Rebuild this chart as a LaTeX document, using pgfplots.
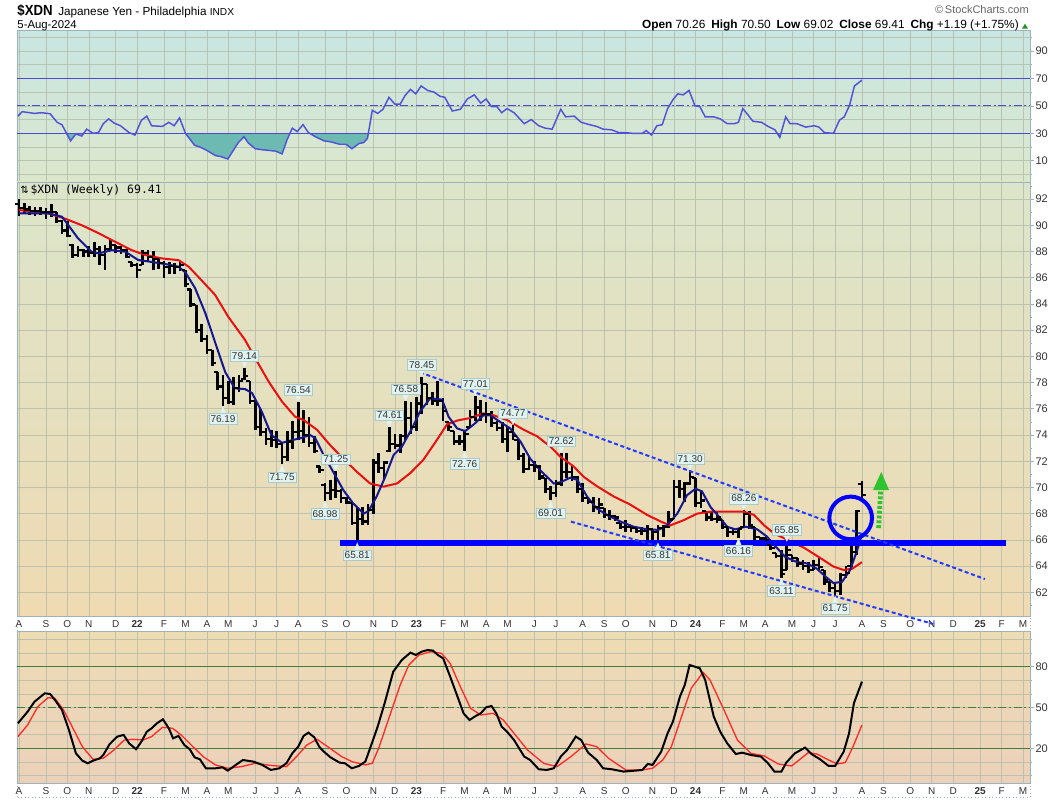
\documentclass[border=0pt]{standalone}
\usepackage{fontspec}
\setmainfont{Liberation Sans}
\newfontfamily\monofont{DejaVu Sans Mono}
\newfontfamily\dejavu{DejaVu Sans}
\newfontfamily\titlefont[FakeStretch=0.9]{Liberation Sans Bold}
\usepackage{pgfplots}
\pgfplotsset{compat=1.18}
\usepackage{pgfplotstable}

\definecolor{rsitop}{HTML}{C8E6E2}
\definecolor{rsibot}{HTML}{DCE7CC}
\definecolor{prtop}{HTML}{DCE5CA}
\definecolor{prmid}{HTML}{F2E5A7}
\definecolor{prbot}{HTML}{EFDAB2}
\definecolor{sttop}{HTML}{EEDCB3}
\definecolor{stbot}{HTML}{EBD1BA}
\definecolor{gridc}{HTML}{B4BCAA}
\definecolor{frame}{HTML}{9DB3BC}
\definecolor{rsiline}{HTML}{5252D6}
\definecolor{rsilvl}{HTML}{4B4BD0}
\definecolor{rsifill}{HTML}{6DBAB2}
\definecolor{maBlue}{HTML}{16168F}
\definecolor{maRed}{HTML}{E81010}
\definecolor{stgreen}{HTML}{3F7F3F}
\definecolor{stred}{HTML}{FF2A2A}
\definecolor{callfill}{HTML}{E1F3F1}
\definecolor{calldraw}{HTML}{A9CBCB}
\definecolor{chanblue}{HTML}{1F3BFF}
\definecolor{upgreen}{HTML}{2FC42F}
\definecolor{txt}{HTML}{333333}

\pgfdeclareplotmark{cls}{\pgfpathmoveto{\pgfqpoint{0pt}{0pt}}\pgfpathlineto{\pgfqpoint{2.9pt}{0pt}}\pgfusepathqstroke}
\pgfdeclareplotmark{opn}{\pgfpathmoveto{\pgfqpoint{-2.9pt}{0pt}}\pgfpathlineto{\pgfqpoint{0pt}{0pt}}\pgfusepathqstroke}

% weekly bars: week index (0 = 2-Aug-2021), open, high, low, close
\pgfplotstableread{
w o h l c
0 91.6 92.0 90.7 91.3
1 91.3 91.7 90.9 91.2
2 91.2 91.5 90.8 91.1
3 91.1 91.4 90.7 91.1
4 91.1 91.4 90.8 91.0
5 91.0 91.3 90.5 91.0
6 91.0 91.6 90.6 91.0
7 91.0 91.0 90.2 90.3
8 90.3 90.4 89.3 89.6
9 89.6 90.3 89.1 89.2
10 88.5 88.6 87.5 87.7
11 87.7 88.4 87.6 88.1
12 88.1 88.2 87.6 88.0
13 88.0 88.4 87.6 87.9
14 87.9 88.7 87.6 88.2
15 88.2 88.4 87.0 87.7
16 87.7 88.5 86.6 88.2
17 88.2 88.9 88.0 88.5
18 88.5 88.5 87.9 88.3
19 88.3 88.4 87.8 88.1
20 88.1 88.2 87.5 87.6
21 87.2 87.2 86.8 87.0
22 87.0 87.1 86.0 86.6
23 87.0 88.1 87.0 87.9
24 87.9 88.1 87.2 87.6
25 87.6 88.0 86.6 87.4
26 87.4 87.6 86.7 87.1
27 87.1 87.3 86.0 86.8
28 86.8 87.2 86.3 86.9
29 86.9 87.1 86.3 86.8
30 86.8 87.2 86.5 87.0
31 86.6 86.6 85.3 85.5
32 85.1 85.1 83.8 84.0
33 83.9 83.9 81.8 82.0
34 82.0 82.5 81.1 81.3
35 81.3 81.6 80.2 80.5
36 80.5 80.5 79.3 79.5
37 78.8 78.8 77.4 77.7
38 77.7 78.6 76.19 76.8
39 76.8 78.1 76.4 76.5
40 76.5 78.4 76.3 77.6
41 77.6 78.6 77.3 78.1
42 78.3 79.14 78.2 78.5
43 78.1 78.1 76.4 76.6
44 76.6 76.7 74.4 74.6
45 74.6 76.0 73.9 74.2
46 74.2 74.5 73.2 73.7
47 73.7 74.4 73.1 73.6
48 73.6 74.3 73.0 73.3
49 73.3 73.4 71.75 72.3
50 72.3 74.3 72.0 73.5
51 73.5 75.1 72.9 74.2
52 74.2 76.54 73.6 74.3
53 74.3 75.9 73.4 74.0
54 74.0 75.4 73.1 73.4
55 73.4 73.9 72.6 72.8
56 71.6 71.6 71.1 71.3
57 70.2 70.3 68.98 69.6
58 69.6 70.6 69.05 69.8
59 69.8 71.25 69.2 69.7
60 69.7 69.9 68.8 69.2
61 69.2 69.3 68.7 68.9
62 68.8 68.8 67.1 67.3
63 67.3 68.5 65.81 67.6
64 67.6 68.5 67.1 67.4
65 67.4 68.7 67.1 68.3
66 68.3 72.2 68.0 71.9
67 71.9 72.6 71.1 71.5
68 71.5 72.0 70.6 71.9
69 72.8 74.61 72.7 73.3
70 73.3 74.1 72.9 73.2
71 73.2 74.1 72.6 73.9
72 73.9 76.58 73.6 75.3
73 75.3 76.5 74.1 74.6
74 74.6 76.9 74.3 76.4
75 76.4 78.45 75.6 77.9
76 77.9 77.9 76.3 76.8
77 76.8 77.3 76.3 76.6
78 76.6 78.1 76.2 76.6
79 76.6 76.8 75.1 75.8
80 75.0 75.0 74.3 74.6
81 74.3 74.3 73.2 73.5
82 73.5 74.0 73.2 73.5
83 73.5 74.4 72.76 74.1
84 74.6 75.9 74.6 75.4
85 75.4 77.01 75.1 76.1
86 76.1 76.7 75.1 75.6
87 75.6 76.5 74.9 75.6
88 75.6 75.8 74.6 74.9
89 74.9 75.1 74.3 74.5
90 74.5 75.0 73.4 73.7
91 73.7 74.6 72.7 74.2
92 74.2 74.77 73.6 73.9
93 73.6 73.6 72.1 72.4
94 72.4 72.6 71.1 71.4
95 71.4 72.3 71.3 71.7
96 71.7 72.0 71.2 71.6
97 71.6 71.7 70.6 70.9
98 70.7 70.7 69.6 69.9
99 69.9 70.1 69.01 69.6
100 69.6 70.6 69.3 70.3
101 70.3 72.62 70.1 71.2
102 71.2 72.6 70.7 71.2
103 71.2 71.6 70.5 70.8
104 70.8 70.9 69.6 69.9
105 69.9 70.3 68.9 69.2
106 69.2 69.3 68.7 68.9
107 68.9 69.3 68.15 68.5
108 68.5 69.2 68.0 68.7
109 68.4 68.4 67.65 67.9
110 67.9 68.3 67.5 67.8
111 67.8 67.9 67.4 67.7
112 67.3 67.3 66.8 67.0
113 67.0 67.5 66.6 67.0
114 67.0 67.1 66.6 66.9
115 66.9 67.0 66.5 66.7
116 66.7 67.0 66.4 66.7
117 66.7 67.1 66.0 66.8
118 66.8 66.8 66.0 66.6
119 66.6 67.1 65.81 66.9
120 66.9 67.1 66.25 67.0
121 67.0 68.2 66.9 67.5
122 67.6 70.6 67.6 70.0
123 70.0 70.6 69.2 69.9
124 69.9 70.4 68.9 70.3
125 70.3 71.30 70.2 70.8
126 70.7 70.7 68.5 68.8
127 68.8 69.7 68.4 69.0
128 68.2 68.2 67.4 67.7
129 67.7 68.2 67.4 67.6
130 67.6 68.2 67.3 67.7
131 67.5 67.5 66.8 67.0
132 67.0 67.0 66.25 66.6
133 66.6 66.8 66.4 66.6
134 66.6 66.9 66.16 66.8
135 67.0 68.26 67.0 68.0
136 68.0 68.2 66.8 67.1
137 67.0 67.0 66.0 66.2
138 66.2 66.2 66.0 66.1
139 66.1 66.2 65.9 66.0
140 65.6 65.6 65.2 65.4
141 65.0 65.0 64.6 64.8
142 64.8 65.2 63.11 63.4
143 63.7 65.85 63.7 65.2
144 64.85 64.85 64.3 64.6
145 64.6 64.6 63.96 64.2
146 64.2 64.5 63.7 64.0
147 64.0 64.3 63.45 63.7
148 63.7 64.5 63.7 64.1
149 64.1 64.7 63.7 63.9
150 63.7 63.7 62.56 62.9
151 62.8 62.8 62.05 62.3
152 62.3 62.7 61.75 62.1
153 62.1 63.45 61.8 63.3
154 63.3 64.0 63.07 63.5
155 64.0 65.74 63.96 65.1
156 65.1 68.28 64.85 68.22
157 70.26 70.50 69.02 69.41
}\ohlc

\pgfplotstableread{
w v
0 90.9
5.5 90.9
8 90.65
9.2 90.0
11 89.0
13.5 87.98
14.8 87.85
17.3 88.1
19.8 87.98
22.2 87.35
24.7 87.2
27.8 87.0
29.7 86.84
31 86.4
32.8 85.2
34.7 83.3
36.5 81.1
38.4 78.8
40.2 77.56
42.1 77.5
43.4 77.2
45.2 75.8
47 74.0
49 73.4
50.8 73.6
52.4 73.75
54.2 74.0
55.2 73.75
56.7 72.5
58.5 71.2
60.4 69.8
62.2 68.8
64.2 68.0
65.1 68.2
66.6 69.3
68.2 70.8
69.8 72.5
71.3 73.1
73.2 74.5
74.7 75.8
76.6 76.8
78.8 76.7
80 75.4
81.6 74.5
83.1 74.3
84.7 74.8
86.5 75.5
87.8 75.5
89.6 75.0
91.5 74.5
93.4 73.5
95.2 72.2
97.1 71.3
99.6 70.3
100.9 70.4
102.7 70.75
104 70.57
105.8 69.3
107.6 68.4
109.5 67.9
112 67.4
114.5 67.0
117 66.8
119.1 66.76
120.7 67.1
122.6 68.0
124.4 69.4
126 69.9
127.2 69.7
128.8 68.5
130.3 67.8
131.9 67.0
133.4 66.8
135.3 67.0
137.5 66.8
139.3 66.25
140.9 65.5
142.7 64.7
144.9 64.3
146.8 64.2
148.6 63.8
150.2 63.2
151.7 62.7
153.3 62.8
154.8 63.7
156.1 65.2
157 66.4
}\maten

\pgfplotstableread{
w v
0 91.16
5.5 90.9
8.6 90.5
11.7 90.0
14.8 89.4
17.9 88.74
21 88.1
23.5 87.73
26.6 87.47
29.7 87.34
31.6 86.84
34 85.8
36.5 84.7
39 83.0
42.1 81.25
44 79.85
46.5 78.07
49 76.54
51.4 75.4
53 75.14
55.5 74.4
58 73.2
60.4 72.2
62.9 71.2
65.4 70.3
67.9 70.06
70.4 70.3
72.9 71.1
75.3 72.1
77.8 73.6
79.7 74.8
81.6 75.1
84.1 75.3
86.5 75.65
88.4 75.5
90.9 75.14
94 74.4
96.5 73.9
99 73.1
100.8 72.35
103.3 71.6
105.2 70.8
107.6 70.1
110.8 69.3
113.8 68.7
117 67.9
119.5 67.4
121.3 67.1
123.8 67.5
126.3 68.0
128.8 68.15
131.9 68.15
135 68.15
136.9 67.9
138.8 67.1
140.6 66.5
143.1 66.0
146.2 65.4
149.3 64.6
151.7 63.96
153.6 63.7
155.2 63.8
157 64.3
}\mathirty

\pgfplotstableread{
w v
-0.2 42.5
0.6 45.75
2.9 44.5
4.2 45
5.8 44.25
7.1 38
8.0 36.25
9.6 24.5
10.6 29.5
11.7 28
12.6 33
13.8 30
14.8 30.5
15.7 37
16.7 40.5
17.7 37.5
18.9 35.5
20.5 30.5
21.6 28.75
22.8 39.5
23.8 42.5
24.7 35.5
26.7 35
27.9 38
28.9 35.5
29.9 41.25
31.0 30
32.7 21.25
33.7 20
35.0 17.5
36.6 13.75
37.6 13
38.9 11.25
40.8 23
41.9 27.5
42.7 23
44.0 18.75
45.3 18
46.6 17.5
47.8 17
49.0 15
49.9 25
50.9 33.75
51.8 31.25
52.9 36.25
53.9 30.5
55.2 27.5
56.8 24.5
58.1 23.75
59.7 22
60.9 22
62.0 18.75
63.3 22.5
64.2 23.25
64.9 26.25
65.8 46.75
66.8 44.5
67.8 47.5
68.9 56.25
70.0 51.25
71.0 51.25
71.9 57.5
72.9 62
73.9 58.75
74.9 64.5
76.1 61.25
77.3 60
78.4 57
79.3 56.25
80.7 46.25
82.2 47.5
83.5 55
84.8 58
86.0 52
87.0 55
88.0 49.5
89.0 49.5
89.9 45
90.9 48
92.2 45
94.1 37
95.4 40
96.8 35.5
98 33.75
99.3 33
100.9 47.5
101.8 42
103.4 42.5
104.7 38
106.3 36.25
107.6 35
108.8 33
110.4 32.5
111.7 30.5
112.9 30.5
114.2 30
116.1 30
116.8 32
117.8 28.75
118.8 35.5
119.8 36.25
120.8 48
121.8 54.5
122.7 58.75
123.7 58
124.8 61.25
125.9 50
126.8 49.5
127.8 42
129.4 42
130.6 40.5
131.9 37
133.2 37
134 38
134.8 48
135.7 43.75
136.7 38.75
138.3 38
139.5 35
140.8 32.5
141.7 27
142.8 42
143.6 37
144.9 37
146.5 34.5
148.1 35.5
149 34.5
150 30.5
151.7 30
152.8 39.5
153.7 42
154.7 50.5
155.6 64.5
157 68.75
}\rsidata

\pgfplotstableread{
w v
-0.2 38.4
1.6 46.9
2.9 54.3
4.8 60.4
5.8 59.9
6.7 55.5
8.0 48.2
9.3 33.5
10.6 16.3
11.8 10.9
12.8 9.0
13.8 10.9
15.1 12.7
15.7 15.1
16.9 23.2
18.3 28.6
19.5 29.8
20.5 23.7
21.8 19.3
22.8 24.9
23.8 32.2
24.7 34.7
25.7 38.4
26.8 41.3
27.9 34.7
28.7 27.3
29.7 29.1
30.8 22.4
31.8 19.3
32.7 13.4
33.7 11.9
34.8 5.3
36.6 5.3
37.9 6.0
38.9 3.6
40.1 7.0
41.7 11.4
43.7 10.2
45.3 7.8
46.9 4.1
48.5 5.3
49.8 9.0
50.9 16.3
52.0 21.2
53.0 29.1
53.9 31.5
55.0 28.1
55.9 21.2
56.8 17.5
58.0 13.4
59.7 9.5
60.7 9.0
62.0 5.3
63.3 7.0
64.5 10.2
65.5 21.2
66.8 35.9
68.1 53.1
69.7 76.3
71.3 84.9
72.9 90.3
73.9 88.6
75.0 91.0
76.1 92.2
77.1 91.8
78.0 88.6
79.0 86.1
80.3 72.7
81.9 55.5
82.8 45.7
83.9 40.8
85.1 43.8
86.0 45.7
87.0 50.1
88.0 51.1
88.9 45.7
89.9 35.9
90.9 32.2
92.2 26.1
94.1 13.9
95.2 11.4
96.8 4.6
98.3 4.1
99.6 5.3
100.9 13.9
102.1 18.8
103.7 28.6
104.7 26.1
106.0 16.8
107.6 11.4
108.8 5.3
110.4 4.6
112.6 2.9
114.8 3.6
116.1 4.1
117.1 8.5
118.0 7.8
119.6 17.5
120.8 31
121.8 39.6
123.1 58.0
124.0 66.5
124.9 81.2
126.8 78.8
127.8 70.2
129.4 43.3
130.6 32.2
131.9 23.7
133.5 15.8
134.7 16.8
136.3 15.1
138.2 13.9
139.5 9.0
140.7 2.9
142.0 2.9
142.9 9.5
144.5 16.3
146.4 20.5
147.6 15.8
149.2 11.9
150.8 7.0
152.0 7.0
153.6 17.5
154.6 31
155.5 53.1
157 69.0
}\stk

\pgfplotstableread{
w v
-0.2 28.6
1.6 37.1
3.5 50.6
5.4 57.2
6.7 56.7
8.3 48.2
9.9 35.9
11.8 21.2
13.8 11.9
15.7 12.7
17.7 18.8
19.6 26.1
21.2 26.6
23.1 26.1
24.7 28.6
26.7 35.4
28.6 34.7
30.2 29.8
32.4 21.2
34.3 13.9
36.6 7.8
38.9 5.3
41.4 6.5
44.0 9.0
47.2 7.3
49.8 6.5
51.7 13.9
53.6 22.4
55.5 26.6
57.5 21.2
60.1 13.9
62.0 10.2
64.5 7.8
65.8 9.0
67.1 21.2
69.1 44.5
71.0 66.5
72.6 81.2
74.5 88.6
76.7 91.0
78.7 89.8
80.3 82.4
82.2 65.3
84.1 49.4
86.0 44.5
88.3 45.7
90.2 40.8
92.2 31
94.7 18.8
97.7 9.0
100.2 6.5
102.8 13.9
105.6 23.2
107.6 21.2
109.8 12.7
113.0 4.1
116.1 4.1
118.0 5.3
119.9 11.4
121.5 21.2
123.4 43.3
125.2 64.1
127.4 75.8
128.7 70.2
131.3 48.2
133.8 26.1
136.3 16.3
138.8 14.4
141.4 8.5
143.9 7.0
147.0 16.8
148.6 15.8
150.8 11.4
152.4 8.5
153.9 9.5
155.2 20
157 37.1
}\std

\pgfplotsset{
  panel/.style={
    scale only axis, width=759.75pt,
    xmin=-0.373, xmax=188.3,
    axis line style={frame, line width=0.6pt},
    xtick={0,5,9,13,18,22,27,31,35,39,44,48,52,57,61,66,70,74,79,83,87,91,96,100,105,109,113,118,122,126,131,135,139,144,148,152,157,161,166,170,174,179,183,187},
    xmajorgrids, ymajorgrids,
    grid style={gridc, line width=0.4pt, opacity=0.8},
    ytick pos=right, yticklabel pos=right,
    tick align=outside,
    major tick length=3pt, minor tick length=1.8pt,
    every tick/.style={frame, line width=0.5pt},
    x tick style={draw=none},
    yticklabel style={font=\fontsize{8.25}{9}\selectfont, text=txt, anchor=west, inner sep=0pt, xshift=1pt},
    /pgf/number format/assume math mode=true,
  },
  months/.style={
    xticklabels={A,S,O,N,D,\textbf{22},F,M,A,M,J,J,A,S,O,N,D,\textbf{23},F,M,A,M,J,J,A,S,O,N,D,\textbf{24},F,M,A,M,J,J,A,S,O,N,D,\textbf{25},F,M},
    xticklabel style={font=\fontsize{7.5}{8}\selectfont, text=txt, anchor=base, inner sep=0pt, yshift=-5.8pt},
  },
}
\tikzset{
  lbl/.style={fill=callfill, draw=calldraw, line width=0.4pt, rectangle,
    inner xsep=1.3pt, inner ysep=1.4pt, font=\fontsize{7.5}{8}\selectfont, text=txt},
}
% labelled high: box above the bar with a small pointer down to it
\newcommand{\hilab}[2]{%
  \fill[callfill] (axis cs:#1,#2) -- ++(-2.3pt,4.8pt) -- ++(4.6pt,0pt) -- cycle;
  \node[lbl, anchor=south, yshift=4.6pt] at (axis cs:#1,#2) {#2};}
% labelled low: box below the bar with a small pointer up to it
\newcommand{\lolab}[2]{%
  \fill[callfill] (axis cs:#1,#2) -- ++(-2.3pt,-5.6pt) -- ++(4.6pt,0pt) -- cycle;
  \node[lbl, anchor=north, yshift=-5.4pt] at (axis cs:#1,#2) {#2};}

\begin{document}
\begin{tikzpicture}
\useasboundingbox (0,0) rectangle (798pt,600pt);
% date strips
\fill[white] (12.75pt,126.75pt) rectangle (772.5pt,138pt);
\draw[frame, dotted, line width=0.6pt] (12.75pt,126.75pt) rectangle (772.5pt,138pt);
\fill[white] (12.75pt,2.25pt) rectangle (772.5pt,12.75pt);
\draw[frame, dotted, line width=0.6pt] (12.75pt,2.25pt) rectangle (772.5pt,12.75pt);

% RSI panel
\begin{axis}[panel, at={(12.75pt,463.5pt)}, anchor=south west, height=113.5pt,
  ymin=-5.5, ymax=104.8, ytick={10,30,50,70,90},
  minor ytick={0,20,40,60,80,100}, yminorgrids, minor grid style={gridc, line width=0.4pt, opacity=0.8},
  xticklabels={},
  axis background/.style={top color=rsitop, bottom color=rsibot}]
  % shaded parts of the RSI below 30
  \addplot[fill=rsifill, draw=none] coordinates {(8.85,30) (9.6,24.5) (10.6,29.5) (11.7,28) (12.06,30)} -- cycle;
  \addplot[fill=rsifill, draw=none] coordinates {(20.81,30) (21.6,28.75) (21.74,30)} -- cycle;
  \addplot[fill=rsifill, draw=none] coordinates {(31.0,30) (32.7,21.25) (33.7,20) (35.0,17.5) (36.6,13.75) (37.6,13) (38.9,11.25) (40.8,23) (41.9,27.5) (42.7,23) (44.0,18.75) (45.3,18) (46.6,17.5) (47.8,17) (49.0,15) (49.9,25) (50.47,30)} -- cycle;
  \addplot[fill=rsifill, draw=none] coordinates {(54.12,30) (55.2,27.5) (56.8,24.5) (58.1,23.75) (59.7,22) (60.9,22) (62.0,18.75) (63.3,22.5) (64.2,23.25) (64.9,26.25) (65.06,30)} -- cycle;
  \addplot[fill=rsifill, draw=none] coordinates {(117.42,30) (117.8,28.75) (117.99,30)} -- cycle;
  \addplot[fill=rsifill, draw=none] coordinates {(141.21,30) (141.7,27) (141.92,30)} -- cycle;
  \addplot[rsilvl, line width=1pt] coordinates {(-0.373,70) (188.3,70)};
  \addplot[rsilvl, line width=1pt] coordinates {(-0.373,30) (188.3,30)};
  \addplot[rsilvl, line width=0.9pt, dash pattern=on 6pt off 2pt on 1.5pt off 2pt] coordinates {(-0.373,50) (188.3,50)};
  \addplot[rsiline, line width=1.1pt] table[x=w,y=v] {\rsidata};
\end{axis}

% price panel
\begin{axis}[panel, months, at={(12.75pt,138pt)}, anchor=south west, height=325.5pt,
  ymin=60.19, ymax=93.3, ytick={62,64,...,92}, minor ytick={61,63,...,93},
  clip=false,
  axis background/.style={top color=prtop, middle color=prmid, bottom color=prbot}]
  \addplot[black, only marks, mark=cls, mark options={line width=1.6pt},
    error bars/.cd, y dir=both, y explicit, error mark=none,
    error bar style={line width=2pt, black}]
    table[x=w, y=c, y error plus expr=\thisrow{h}-\thisrow{c}, y error minus expr=\thisrow{c}-\thisrow{l}] {\ohlc};
  \addplot[black, only marks, mark=opn, mark options={line width=1.6pt}] table[x=w, y=o] {\ohlc};
  \addplot[maRed, line width=1.5pt] table[x=w,y=v] {\mathirty};
  \addplot[maBlue, line width=1.5pt] table[x=w,y=v] {\maten};
  % drawn annotations
  \addplot[blue, line width=4.2pt] coordinates {(59.7,65.75) (183.8,65.75)};
  \addplot[chanblue, line width=1.5pt, dash pattern=on 3pt off 2pt] coordinates {(74.7,78.78) (179.9,63.01)};
  \addplot[chanblue, line width=1.5pt, dash pattern=on 3pt off 2pt] coordinates {(102.8,67.39) (170.3,59.58)};
  \draw[blue, line width=3pt] (axis cs:154.9,67.67) circle[radius=16pt];
  \draw[upgreen, line width=3.6pt, dash pattern=on 2.2pt off 1.4pt] (axis cs:160.1,66.9) -- (axis cs:160.5,69.8);
  \fill[upgreen] (axis cs:160.6,71.18) -- (axis cs:159.06,69.8) -- (axis cs:162.04,69.8) -- cycle;
  % labelled highs and lows
  \hilab{42}{79.14}
  \lolab{38}{76.19}
  \hilab{52}{76.54}
  \lolab{49}{71.75}
  \hilab{59}{71.25}
  \lolab{57}{68.98}
  \lolab{63}{65.81}
  \hilab{69}{74.61}
  \hilab{72}{76.58}
  \hilab{75}{78.45}
  \lolab{83}{72.76}
  \hilab{85}{77.01}
  \hilab{92}{74.77}
  \hilab{101}{72.62}
  \lolab{99}{69.01}
  \lolab{119}{65.81}
  \hilab{125}{71.30}
  \hilab{135}{68.26}
  \lolab{134}{66.16}
  \hilab{143}{65.85}
  \lolab{142}{63.11}
  \lolab{152}{61.75}
\end{axis}

% stochastic panel
\begin{axis}[panel, months, at={(12.75pt,12.75pt)}, anchor=south west, height=114pt,
  ymin=-5.5, ymax=106.2, ytick={20,50,80},
  minor ytick={0,10,30,40,60,70,90,100}, yminorgrids, minor grid style={gridc, line width=0.4pt, opacity=0.8},
  axis background/.style={top color=sttop, bottom color=stbot}]
  \addplot[stgreen, line width=1pt] coordinates {(-0.373,80) (188.3,80)};
  \addplot[stgreen, line width=1pt] coordinates {(-0.373,20) (188.3,20)};
  \addplot[stgreen, line width=0.9pt, dash pattern=on 6pt off 2pt on 1.5pt off 2pt] coordinates {(-0.373,50) (188.3,50)};
  \addplot[stred, line width=1pt] table[x=w,y=v] {\std};
  \addplot[black, line width=1.5pt] table[x=w,y=v] {\stk};
\end{axis}

% header texts
\node[anchor=base west, inner sep=0pt, font=\titlefont\fontsize{11}{12}\selectfont] at (12.9pt,588.4pt) {\$XDN};
\node[anchor=base west, inner sep=0pt, font=\fontsize{8.8}{10}\selectfont] at (43.5pt,588.4pt) {Japanese Yen - Philadelphia {\fontsize{7.6}{8}\selectfont INDX}};
\node[anchor=base west, inner sep=0pt, font=\fontsize{8.5}{9}\selectfont] at (12.9pt,578.4pt) {5-Aug-2024};
\node[anchor=base east, inner sep=0pt, font=\fontsize{8.25}{9}\selectfont, text=black!60] at (771.75pt,589.5pt) {\copyright\,StockCharts.com};
\node[anchor=base east, inner sep=0pt, font=\fontsize{8.9}{10}\selectfont] at (764.25pt,578.6pt)
  {\textbf{Open} 70.26\enspace\textbf{High} 70.50\enspace\textbf{Low} 69.02\enspace\textbf{Close} 69.41\enspace\textbf{Chg} +1.19 (+1.75\%)};
\fill[upgreen!75!black] (766.5pt,578.6pt) -- (771pt,578.6pt) -- (768.75pt,582.2pt) -- cycle;
\node[anchor=base west, inner sep=0pt, font=\fontsize{8.6}{9}\selectfont] at (15pt,454.5pt) {{\dejavu\fontsize{7.5}{8}\selectfont ⇅}\,{\monofont \$XDN (Weekly) 69.41}};
\end{tikzpicture}
\end{document}
